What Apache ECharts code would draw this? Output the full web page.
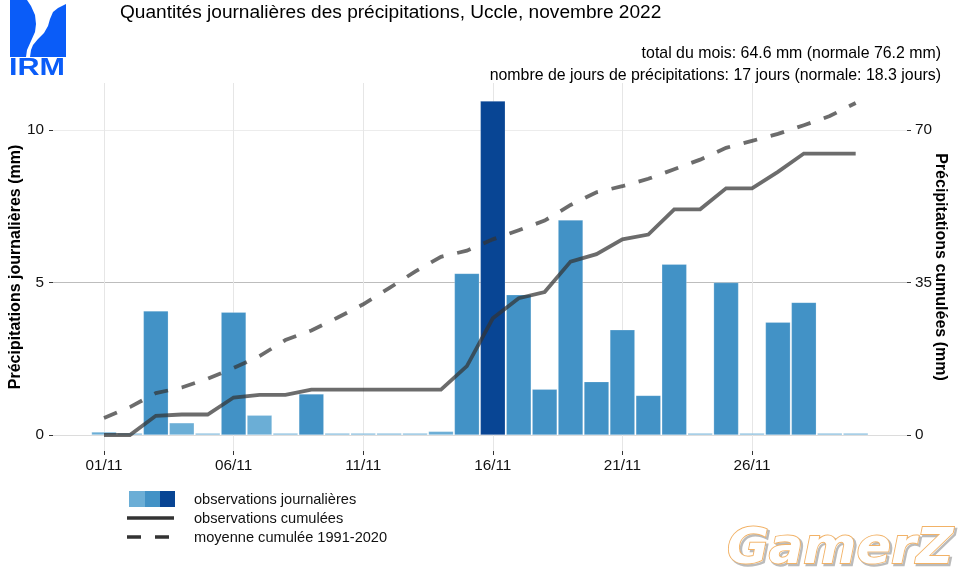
<!DOCTYPE html>
<html><head><meta charset="utf-8">
<style>html,body{margin:0;padding:0;background:#fff}#c{width:960px;height:576px}</style>
<script src="https://cdn.jsdelivr.net/npm/echarts@6/dist/echarts.min.js"></script>
</head><body><div id="c"></div>
<script>
const days = [1,2,3,4,5,6,7,8,9,10,11,12,13,14,15,16,17,18,19,20,21,22,23,24,25,26,27,28,29,30];
const dailyValues = [0.1,0.06,4.07,0.4,0.06,4.03,0.65,0.06,1.35,0.06,0.06,0.06,0.06,0.12,5.3,10.95,4.6,1.5,7.05,1.75,3.45,1.3,5.6,0.06,5.0,0.06,3.7,4.35,0.06,0.06];
const cumulValues = [0,0,4.4,4.7,4.7,8.6,9.2,9.2,10.4,10.4,10.4,10.4,10.4,10.4,15.8,26.8,31.4,32.8,39.8,41.5,44.9,46,51.8,51.8,56.6,56.6,60.4,64.6,64.6,64.6];
const normalValues = [3.9,6.4,9.6,10.9,12.9,15.4,18.1,21.8,24,26.9,30,33.7,37.5,40.9,42.3,44.9,47,49.2,52.8,55.7,57.1,58.8,61,63.2,65.9,67.5,69.1,71.1,73.2,76.2];
const xTickDays = [1,6,11,16,21,26];
const leftTicks = [0,5,10];
const rightTicks = [0,35,70];
const pad = n => String(n).padStart(2,'0');
const LIGHT='#6BAED6', MID='#4292C6', DARK='#084594';
const LINE='rgba(51,51,51,0.72)';
const BLUE='#0a5cf8';
const FONT='"Liberation Sans", Arial, sans-serif';
const barColor = v => v < 1 ? LIGHT : v < 10 ? MID : DARK;
const chart = echarts.init(document.getElementById('c'), null, {renderer:'canvas'});
const pxDay = 25.92;
const gL=53, gR=907, gT=83, gB=451, zeroY=435, pxMm=30.5;
const yMin = -(gB-zeroY)/pxMm, yMax = (zeroY-gT)/pxMm;
const label = {color:'#111', fontFamily:FONT, fontSize:15.3};
chart.setOption({
  animation:false,
  backgroundColor:'#fff',
  textStyle:{fontFamily:FONT},
  grid:{left:gL,top:gT,width:gR-gL,height:gB-gT,containLabel:false,outerBoundsMode:'none'},
  xAxis:{type:'value',min:1-(104-gL)/pxDay,max:1+(gR-104)/pxDay,
    axisLine:{show:false,onZero:false},
    axisTick:{show:true,length:4,customValues:xTickDays,lineStyle:{color:'#333',width:1}},
    axisLabel:Object.assign({},label,{customValues:xTickDays,margin:7,showMinLabel:true,showMaxLabel:true,formatter:v=>pad(v)+'/11'}),
    splitLine:{show:true,lineStyle:{color:'#e6e6e6',width:1}}},
  yAxis:[
   {type:'value',min:yMin,max:yMax,position:'left',
    name:'Précipitations journalières (mm)',nameLocation:'middle',nameRotate:90,nameGap:29,nameMoveOverlap:false,
    nameTextStyle:{color:'#000',fontFamily:FONT,fontWeight:'bold',fontSize:16},
    axisLine:{show:false,onZero:false},
    axisTick:{show:true,length:4,customValues:leftTicks,lineStyle:{color:'#333'}},
    axisLabel:Object.assign({},label,{customValues:leftTicks,margin:9,padding:[2,0,0,0]}),
    splitLine:{show:true,lineStyle:{color:['#dcdcdc','#bdbdbd','#ececec'],width:1}}},
   {type:'value',min:yMin*7,max:yMax*7,position:'right',
    name:'Précipitations cumulées (mm)',nameLocation:'middle',nameRotate:-90,nameGap:25,nameMoveOverlap:false,
    nameTextStyle:{color:'#000',fontFamily:FONT,fontWeight:'bold',fontSize:16},
    axisLine:{show:false,onZero:false},
    axisTick:{show:true,length:4,customValues:rightTicks,lineStyle:{color:'#333'}},
    axisLabel:Object.assign({},label,{customValues:rightTicks,margin:8,padding:[2,0,0,0]}),
    splitLine:{show:false}}
  ],
  series:[
   {name:'observations journalières',type:'bar',xAxisIndex:0,yAxisIndex:0,barWidth:25,z:3,
    data:days.map((d,i)=>({value:[d,dailyValues[i]],itemStyle:{color:barColor(dailyValues[i]),borderColor:'rgba(255,255,255,0.35)',borderWidth:0.6}}))},
   {name:'observations cumulées',type:'line',yAxisIndex:1,showSymbol:false,symbol:'none',z:5,
    lineStyle:{color:LINE,width:3.8,cap:'butt',join:'miter'},
    data:days.map((d,i)=>[d,cumulValues[i]])},
   {name:'moyenne cumulée 1991-2020',type:'line',yAxisIndex:1,showSymbol:false,symbol:'none',z:5,
    lineStyle:{color:LINE,width:3.8,type:[14,14],cap:'butt',join:'miter'},
    data:days.map((d,i)=>[d,normalValues[i]])}
  ],
  graphic:{elements:[
   {type:'text',x:120,y:3,style:{text:'Quantités journalières des précipitations, Uccle, novembre 2022',font:'19.1px '+FONT,fill:'#000'}},
   {type:'text',x:941,y:45.5,style:{text:'total du mois: 64.6 mm (normale 76.2 mm)',font:'15.9px '+FONT,fill:'#000',align:'right'}},
   {type:'text',x:941,y:67.5,style:{text:'nombre de jours de précipitations: 17 jours (normale: 18.3 jours)',font:'15.9px '+FONT,fill:'#000',align:'right'}},
   /* logo */
   {type:'polygon',shape:{points:[[10,0],[27,0],[31,6],[35,15],[36,24],[35,32],[31,41],[27,50],[26,57],[10,57]]},style:{fill:BLUE}},
   {type:'polygon',shape:{points:[[66,4],[58,8],[53,12],[50,19],[48,26],[44,33],[38,39],[33,45],[31,50],[30,57],[66,57]]},style:{fill:BLUE}},
   {type:'text',x:9,y:57,scaleX:1.3,style:{text:'IRM',font:'bold 23.5px '+FONT,fill:BLUE}},
   /* legend */
   {type:'rect',shape:{x:129,y:491,width:16,height:16},style:{fill:LIGHT}},
   {type:'rect',shape:{x:145,y:491,width:15,height:16},style:{fill:MID}},
   {type:'rect',shape:{x:160,y:491,width:15,height:16},style:{fill:DARK}},
   {type:'line',shape:{x1:127,y1:518,x2:174,y2:518},style:{stroke:'#333',lineWidth:3.6}},
   {type:'line',shape:{x1:127,y1:537,x2:170,y2:537},style:{stroke:'#333',lineWidth:3.6,lineDash:[14,14]}},
   {type:'text',x:194,y:492,style:{text:'observations journalières',font:'14.6px '+FONT,fill:'#111'}},
   {type:'text',x:194,y:511,style:{text:'observations cumulées',font:'14.6px '+FONT,fill:'#111'}},
   {type:'text',x:194,y:530,style:{text:'moyenne cumulée 1991-2020',font:'14.6px '+FONT,fill:'#111'}},
   /* watermark */
   {type:'text',x:729,y:527,scaleX:1.02,style:{text:'GamerZ',font:'italic bold 50px "DejaVu Sans"',fill:'rgba(0,0,0,0)',stroke:'rgba(120,120,120,0.5)',lineWidth:2.4}},
   {type:'text',x:727,y:525,scaleX:1.02,style:{text:'GamerZ',font:'italic bold 50px "DejaVu Sans"',fill:'#fff',stroke:'#f2b266',lineWidth:1.8}}
  ]}
});
</script></body></html>
